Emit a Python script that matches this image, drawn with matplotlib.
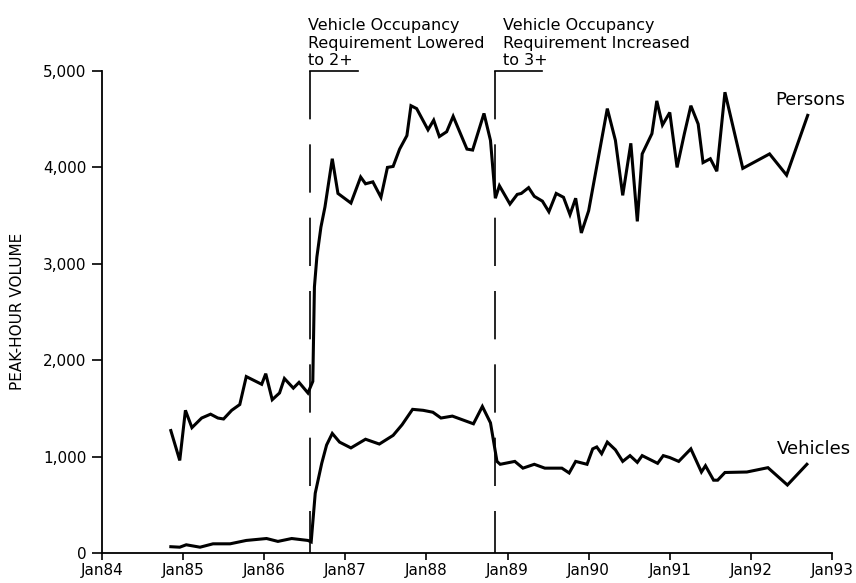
import matplotlib
matplotlib.use("Agg")
import matplotlib.pyplot as plt

# peak-hour volumes (x in decimal years, 84 = Jan 1984)
persons_years = [84.85, 84.96, 85.03, 85.11, 85.23, 85.34, 85.43, 85.50, 85.60, 85.70,
                 85.78, 85.97, 86.02, 86.10, 86.19, 86.25, 86.36, 86.43, 86.54, 86.60,
                 86.62, 86.65, 86.70, 86.75, 86.84, 86.91, 87.07, 87.19, 87.25, 87.34,
                 87.44, 87.52, 87.59, 87.67, 87.76, 87.81, 87.88, 88.02, 88.09, 88.16,
                 88.25, 88.33, 88.50, 88.57, 88.71, 88.79, 88.85, 88.90, 89.03, 89.12,
                 89.17, 89.26, 89.33, 89.43, 89.51, 89.60, 89.69, 89.77, 89.84, 89.91,
                 90.00, 90.23, 90.33, 90.42, 90.52, 90.60, 90.66, 90.78, 90.84, 90.91,
                 91.00, 91.09, 91.18, 91.26, 91.35, 91.41, 91.50, 91.58, 91.68, 91.90,
                 92.23, 92.44, 92.70]
persons = [1270, 960, 1480, 1300, 1400, 1440, 1400, 1390, 1480, 1540,
           1830, 1750, 1860, 1590, 1660, 1810, 1710, 1770, 1660, 1780,
           2760, 3070, 3380, 3590, 4090, 3730, 3630, 3900, 3830, 3850,
           3690, 4000, 4010, 4190, 4330, 4640, 4610, 4390, 4490, 4320,
           4370, 4530, 4190, 4180, 4560, 4280, 3680, 3810, 3620, 3720,
           3730, 3790, 3700, 3650, 3540, 3730, 3690, 3510, 3680, 3320,
           3550, 4610, 4280, 3710, 4250, 3440, 4140, 4350, 4690, 4440,
           4570, 4000, 4350, 4640, 4450, 4050, 4090, 3960, 4780, 3990,
           4140, 3920, 4540]

vehicles_years = [84.85, 84.96, 85.04, 85.21, 85.37, 85.58, 85.78, 86.03, 86.17, 86.34,
                  86.54, 86.58, 86.63, 86.71, 86.77, 86.84, 86.93, 87.07, 87.25, 87.42,
                  87.59, 87.70, 87.83, 87.96, 88.08, 88.18, 88.32, 88.58, 88.69, 88.79,
                  88.87, 88.91, 89.09, 89.19, 89.33, 89.46, 89.67, 89.76, 89.84, 89.98,
                  90.05, 90.10, 90.16, 90.23, 90.33, 90.42, 90.51, 90.60, 90.66, 90.85,
                  90.92, 91.00, 91.11, 91.26, 91.39, 91.44, 91.54, 91.59, 91.68, 91.95,
                  92.21, 92.45, 92.69]
vehicles = [65, 60, 85, 60, 95, 95, 130, 150, 120, 150,
            130, 115, 620, 930, 1120, 1240, 1150, 1090, 1180, 1130,
            1220, 1330, 1490, 1480, 1460, 1400, 1420, 1340, 1520, 1350,
            950, 920, 950, 880, 920, 880, 880, 830, 950, 920,
            1080, 1100, 1030, 1150, 1070, 950, 1010, 940, 1010, 930,
            1010, 990, 950, 1080, 840, 905, 755, 755, 835, 840,
            885, 705, 920]

# policy changes
event_years = [86.57, 88.84]
event_labels = ["Vehicle Occupancy\nRequirement Lowered\nto 2+",
                "Vehicle Occupancy\nRequirement Increased\nto 3+"]
event_text_x = [86.54, 88.94]

x_ticks = list(range(84, 94))
x_labels = ["Jan84", "Jan85", "Jan86", "Jan87", "Jan88",
            "Jan89", "Jan90", "Jan91", "Jan92", "Jan93"]
y_ticks = [0, 1000, 2000, 3000, 4000, 5000]
y_labels = ["0", "1,000", "2,000", "3,000", "4,000", "5,000"]

plt.rcParams['font.family'] = ['DejaVu Sans']

fig = plt.figure(figsize=(8.56, 5.83), dpi=100)
ax = fig.add_axes([0.119, 0.0515, 0.853, 0.8267])

ax.plot(persons_years, persons, color='black', lw=2.2, solid_joinstyle='miter')
ax.plot(vehicles_years, vehicles, color='black', lw=2.2, solid_joinstyle='miter')

for x, label, tx in zip(event_years, event_labels, event_text_x):
    ax.plot([x, x], [5000, 0], color='black', lw=1.2,
            linestyle=(0, (29, 15)), clip_on=False)
    ax.plot([x, x + 0.59], [5000, 5000], color='black', lw=1.2, clip_on=False)
    ax.text(tx, 5030, label, fontsize=11.5, ha='left', va='bottom',
            linespacing=1.2)

ax.text(92.30, 4700, "Persons", fontsize=13, ha='left', va='center')
ax.text(92.32, 1080, "Vehicles", fontsize=13, ha='left', va='center')

ax.set_xlim(84, 93)
ax.set_ylim(0, 5000)
ax.set_xticks(x_ticks)
ax.set_xticklabels(x_labels)
ax.set_yticks(y_ticks)
ax.set_yticklabels(y_labels)
ax.tick_params(axis='both', labelsize=11, width=1.2, direction='out')
ax.tick_params(axis='y', length=7, pad=4)
ax.tick_params(axis='x', length=5, pad=2)

ax.spines['top'].set_visible(False)
ax.spines['right'].set_visible(False)
for side in ['left', 'bottom']:
    ax.spines[side].set_linewidth(1.3)

fig.text(18 / 856, 1 - 311 / 583, "PEAK-HOUR VOLUME", rotation=90,
         fontsize=11, ha='center', va='center')

fig.savefig("out.png", dpi=100)
